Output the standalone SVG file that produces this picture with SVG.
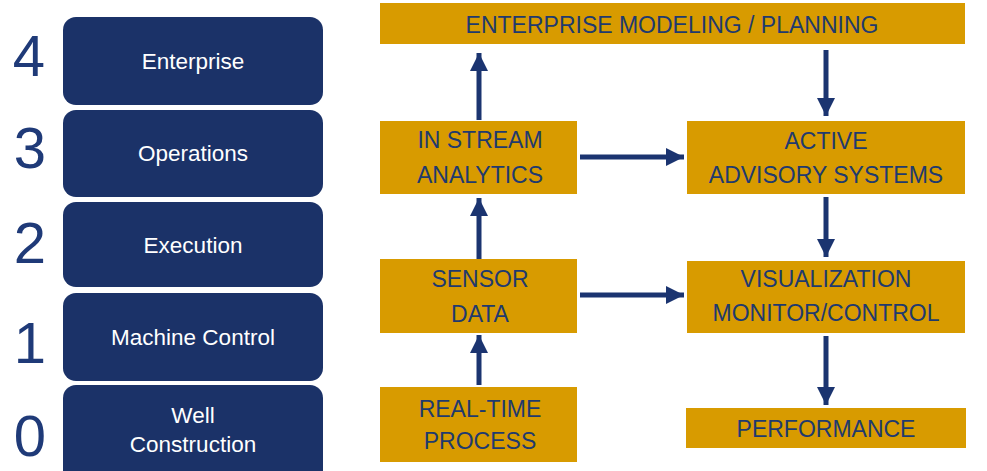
<svg xmlns="http://www.w3.org/2000/svg" width="987" height="471" viewBox="0 0 987 471">
<defs>
<marker id="ah" viewBox="0 0 10 10" refX="10" refY="5" markerWidth="3.8" markerHeight="3.6" markerUnits="strokeWidth" orient="auto">
<path d="M0,0 L10,5 L0,10 z" fill="#1B3470"/>
</marker>
<style>
.lvl{fill:#1B3268;}
.lt{font-family:"Liberation Sans",Arial,sans-serif;font-size:22.5px;fill:#ffffff;text-anchor:middle;}
.num{font-family:"Liberation Sans",Arial,sans-serif;font-size:58px;fill:#1F3A78;text-anchor:middle;}
.gold{fill:#D89B00;}
.gt{font-family:"Liberation Sans",Arial,sans-serif;font-size:23px;fill:#1F3A6E;text-anchor:middle;}
.arr{stroke:#1B3470;stroke-width:5;fill:none;marker-end:url(#ah);}
</style>
</defs>
<rect width="987" height="471" fill="#ffffff"/>
<g id="level4"><text class="num" x="29" y="76">4</text><rect class="lvl" x="63" y="17" width="260" height="88" rx="13"/><text class="lt" x="193" y="69">Enterprise</text></g>
<g id="level3"><text class="num" x="30" y="168">3</text><rect class="lvl" x="63" y="110" width="260" height="87" rx="13"/><text class="lt" x="193" y="161">Operations</text></g>
<g id="level2"><text class="num" x="30" y="263">2</text><rect class="lvl" x="63" y="202" width="260" height="85" rx="13"/><text class="lt" x="193" y="253">Execution</text></g>
<g id="level1"><text class="num" x="30" y="363">1</text><rect class="lvl" x="63" y="293" width="260" height="88" rx="13"/><text class="lt" x="193" y="345">Machine Control</text></g>
<g id="level0"><text class="num" x="30" y="456">0</text><rect class="lvl" x="63" y="385" width="260" height="100" rx="13"/><text class="lt" x="193" y="423">Well</text><text class="lt" x="193" y="452">Construction</text></g>

<g id="enterprise-modeling"><rect class="gold" x="380" y="3" width="585" height="41"/><text class="gt" x="672" y="33">ENTERPRISE MODELING / PLANNING</text></g>
<g id="in-stream"><rect class="gold" x="380" y="121" width="197" height="73"/><text class="gt" x="480" y="148">IN STREAM</text><text class="gt" x="480" y="183">ANALYTICS</text></g>
<g id="sensor-data"><rect class="gold" x="380" y="259" width="197" height="74"/><text class="gt" x="480" y="287">SENSOR</text><text class="gt" x="480" y="322">DATA</text></g>
<g id="real-time"><rect class="gold" x="380" y="387" width="197" height="75"/><text class="gt" x="480" y="417">REAL-TIME</text><text class="gt" x="480" y="449">PROCESS</text></g>
<g id="active-advisory"><rect class="gold" x="687" y="121" width="278" height="73"/><text class="gt" x="826" y="149">ACTIVE</text><text class="gt" x="826" y="183">ADVISORY SYSTEMS</text></g>
<g id="visualization"><rect class="gold" x="687" y="261" width="278" height="72"/><text class="gt" x="826" y="287">VISUALIZATION</text><text class="gt" x="826" y="321">MONITOR/CONTROL</text></g>
<g id="performance"><rect class="gold" x="686" y="408" width="280" height="40"/><text class="gt" x="826" y="437">PERFORMANCE</text></g>

<g id="connectors">
<line class="arr" x1="479" y1="120" x2="479" y2="53"/>
<line class="arr" x1="479" y1="259" x2="479" y2="198"/>
<line class="arr" x1="479" y1="385" x2="479" y2="335"/>
<line class="arr" x1="580" y1="157" x2="684" y2="157"/>
<line class="arr" x1="580" y1="295" x2="684" y2="295"/>
<line class="arr" x1="826" y1="50" x2="826" y2="116"/>
<line class="arr" x1="826" y1="197" x2="826" y2="257"/>
<line class="arr" x1="826" y1="336" x2="826" y2="405"/>
</g>
</svg>
